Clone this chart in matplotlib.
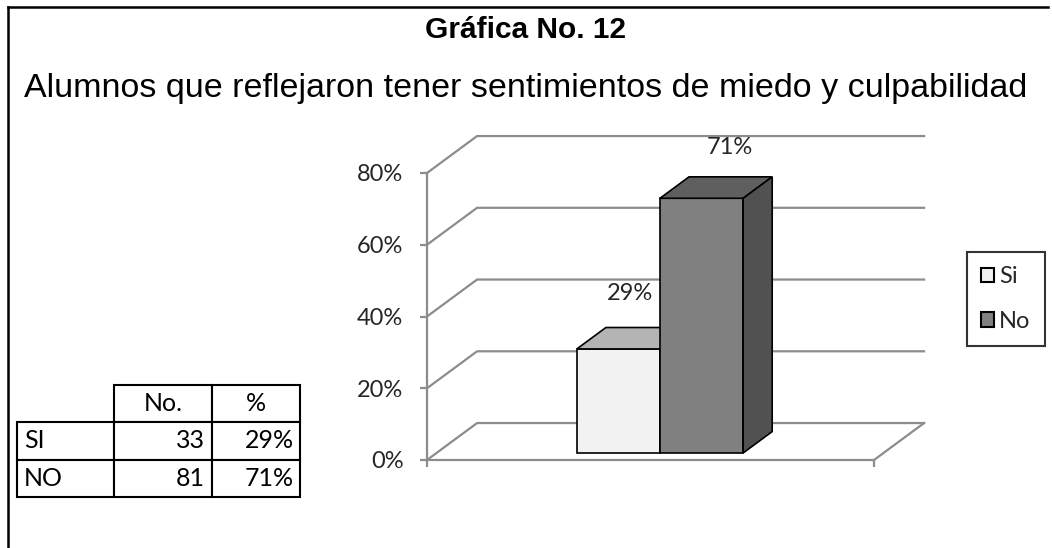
import matplotlib
matplotlib.use("Agg")
import matplotlib.pyplot as plt
from matplotlib.patches import Polygon, Patch
from matplotlib.lines import Line2D

# Data
series = ['Si', 'No']
row_labels = ['SI', 'NO']
counts = [33, 81]
percents = [29, 71]
y_ticks = [0, 20, 40, 60, 80]

title = 'Gráfica No. 12'
subtitle = 'Alumnos que reflejaron tener sentimientos de miedo y culpabilidad'

# Colours (front, top, side)
front_colors = ['#F2F2F2', '#808080']
top_colors = ['#B4B4B4', '#5F5F5F']
side_colors = ['#C8C8C8', '#515151']
grid_color = '#8C8C8C'
text_color = '#262626'

W, H = 1052, 548
fig = plt.figure(figsize=(W / 100, H / 100), dpi=100)

# outer frame (left and top edges only are visible)
fig.add_artist(Line2D([8 / W, 8 / W], [0, 1 - 7 / H], color='black', lw=1.8))
fig.add_artist(Line2D([8 / W, 1048 / W], [1 - 7 / H, 1 - 7 / H], color='black', lw=1.8))

fig.text(0.5, 1 - 30 / H, title, ha='center', va='center', fontsize=21.5,
         fontweight='bold', family='Liberation Sans')
fig.text(0.5, 1 - 88 / H, subtitle, ha='center', va='center', fontsize=24.5,
         family='Liberation Sans')

# front plane of the 3D chart
ax = fig.add_axes([427 / W, (H - 460) / H, 447 / W, 287 / H])
ax.set_xlim(-0.5, 0.5)
ax.set_ylim(0, 80)
DX, DY = 0.112, 10.3       # full depth offset (x units, % units)
f0, f1 = 0.19, 0.77        # bar depth start / end as fraction of depth
width = 0.186
xpos = [-width / 2, width / 2]

for v in y_ticks:
    ax.plot([-0.5, -0.5 + DX, 0.5 + DX], [v, v + DY, v + DY],
            color=grid_color, lw=1.6, clip_on=False, zorder=1)
ax.plot([0.5, 0.5 + DX], [0, DY], color=grid_color, lw=1.6, clip_on=False, zorder=1)

bx, by = f0 * DX, f0 * DY
ddx, ddy = (f1 - f0) * DX, (f1 - f0) * DY
for i, (x, v) in enumerate(zip(xpos, percents)):
    z = 3 + i
    ax.bar(x + bx, v, bottom=by, width=width, color=front_colors[i],
           edgecolor='black', lw=1.2, clip_on=False, zorder=z)
    xl, xr = x + bx - width / 2, x + bx + width / 2
    top = v + by
    ax.add_patch(Polygon([(xl, top), (xr, top), (xr + ddx, top + ddy), (xl + ddx, top + ddy)],
                         closed=True, facecolor=top_colors[i], edgecolor='black',
                         lw=1.2, clip_on=False, zorder=z))
    ax.add_patch(Polygon([(xr, by), (xr + ddx, by + ddy), (xr + ddx, top + ddy), (xr, top)],
                         closed=True, facecolor=side_colors[i], edgecolor='black',
                         lw=1.2, clip_on=False, zorder=z))

label_offsets = [(-3, 45), (14, 40)]
for i, (x, v) in enumerate(zip(xpos, percents)):
    ax.annotate(f'{v}%', (x + DX * 0.48, v + DY * 0.48), xytext=label_offsets[i],
                textcoords='offset pixels', ha='center', va='center',
                fontsize=17, family='Lato', color=text_color, annotation_clip=False)

ax.set_yticks(y_ticks)
ax.set_yticklabels([f'{t}%' for t in y_ticks], family='Lato', fontsize=17, color=text_color)
ax.set_xticks([-0.5, 0.5])
ax.set_xticklabels([])
ax.tick_params(axis='both', direction='out', length=5, width=1.6, color=grid_color)
ax.tick_params(axis='y', pad=12)
for s in ['top', 'right']:
    ax.spines[s].set_visible(False)
for s in ['left', 'bottom']:
    ax.spines[s].set_color(grid_color)
    ax.spines[s].set_linewidth(1.6)
ax.set_facecolor('none')

# legend
handles = [Patch(facecolor=front_colors[i], edgecolor='black', lw=1.5) for i in range(2)]
leg = fig.legend(handles, series, loc='center',
                 bbox_to_anchor=(1006 / W, 1 - 299 / H),
                 prop={'family': 'Lato', 'size': 17}, frameon=True, fancybox=False,
                 edgecolor='black', handlelength=0.55, handleheight=0.55,
                 handletextpad=0.2, labelspacing=1.0, borderpad=0.6)
leg.get_frame().set_linewidth(1.5)
for t in leg.get_texts():
    t.set_color(text_color)

# data table
tax = fig.add_axes([17 / W, (H - 497) / H, 283 / W, 112 / H])
tax.axis('off')
cells = [['', 'No.', '%']] + [[row_labels[i], str(counts[i]), f'{percents[i]}%'] for i in range(2)]
tbl = tax.table(cellText=cells, bbox=[0, 0, 1, 1], colWidths=[0.343, 0.346, 0.311])
tbl.auto_set_font_size(False)
for (r, c), cell in tbl.get_celld().items():
    cell.set_linewidth(1.5)
    cell.get_text().set_fontsize(18)
    cell.get_text().set_family('Lato')
    cell.get_text().set_color('black')
    cell.PAD = 0.07
    if r == 0:
        cell.get_text().set_ha('center')
        cell._loc = 'center'
        if c == 0:
            cell.visible_edges = ''
    elif c == 0:
        cell._loc = 'left'
        cell.get_text().set_ha('left')
    else:
        cell._loc = 'right'
        cell.get_text().set_ha('right')

fig.savefig('out.png', dpi=100)
